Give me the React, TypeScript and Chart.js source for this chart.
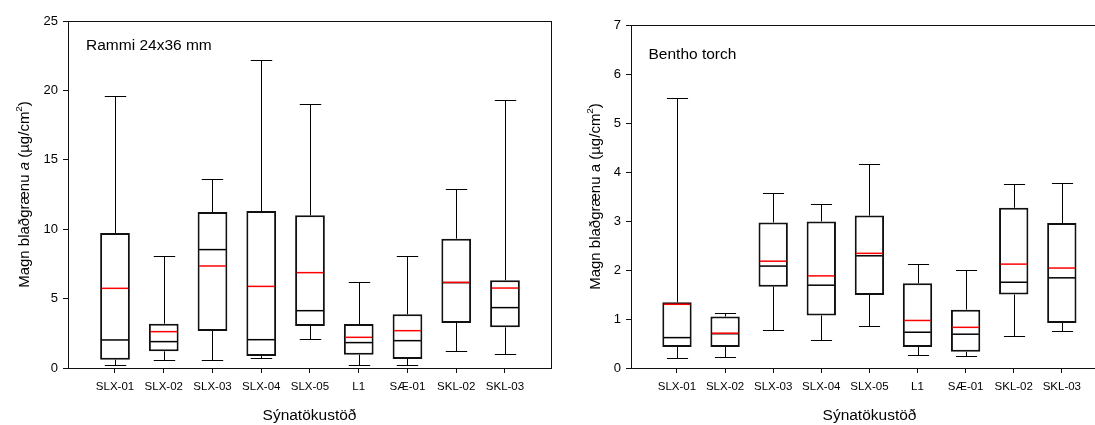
import React, { useEffect, useRef } from "react";
import { Chart, registerables } from "chart.js";

Chart.register(...registerables);

const FONT = '"Liberation Sans", Arial, Helvetica, sans-serif';
Chart.defaults.font.family = FONT;

// Sampling stations on the x axis
const stations = ["SLX-01", "SLX-02", "SLX-03", "SLX-04", "SLX-05", "L1", "SÆ-01", "SKL-02", "SKL-03"];

// Chlorophyll a, frame 24x36 mm (µg/cm²)
const rammiMin = [0.22, 0.58, 0.55, 0.72, 2.11, 0.24, 0.24, 1.2, 1.01];
const rammiQ1 = [0.6, 1.2, 2.67, 0.86, 3.03, 0.96, 0.65, 3.24, 2.93];
const rammiMedian = [2.02, 1.9, 8.53, 2.04, 4.13, 1.83, 1.97, 6.15, 4.35];
const rammiMean = [5.74, 2.62, 7.35, 5.88, 6.87, 2.21, 2.69, 6.17, 5.76];
const rammiQ3 = [9.73, 3.19, 11.24, 11.31, 11.0, 3.17, 3.87, 9.32, 6.32];
const rammiMax = [19.6, 8.05, 13.62, 22.19, 19.02, 6.2, 8.07, 12.92, 19.28];

// Chlorophyll a, BenthoTorch (µg/cm²)
const benthoMin = [0.2, 0.22, 0.77, 0.58, 0.86, 0.27, 0.25, 0.65, 0.75];
const benthoQ1 = [0.43, 0.43, 1.66, 1.07, 1.49, 0.43, 0.33, 1.5, 0.92];
const benthoMedian = [0.62, 0.7, 2.08, 1.69, 2.29, 0.73, 0.69, 1.75, 1.84];
const benthoMean = [1.3, 0.71, 2.18, 1.88, 2.34, 0.97, 0.83, 2.12, 2.04];
const benthoQ3 = [1.34, 1.05, 2.97, 2.99, 3.11, 1.73, 1.19, 3.27, 2.96];
const benthoMax = [5.52, 1.13, 3.58, 3.34, 4.16, 2.13, 1.99, 3.76, 3.78];

type Stats = { min: number[]; q1: number[]; median: number[]; mean: number[]; q3: number[]; max: number[] };
type Seg = { text: string; italic?: boolean; sup?: boolean };

type PanelProps = {
  left: number;
  width: number;
  stats: Stats;
  yMax: number;
  yStep: number;
  xMin: number;
  xMax: number;
  yAxisWidth: number;
  padTop: number;
  padRight: number;
  note: string;
  noteX: number;
  noteY: number;
  yTitle: Seg[];
  yTitleX: number;
};

const xTitle = "Sýnatökustöð";

function drawRotated(ctx: CanvasRenderingContext2D, segs: Seg[], baseX: number, cy: number, size: number) {
  const fontFor = (s: Seg) => `${s.italic ? "italic " : ""}${s.sup ? size * 0.66 : size}px ${FONT}`;
  ctx.save();
  ctx.translate(baseX, cy);
  ctx.rotate(-Math.PI / 2);
  ctx.fillStyle = "#000";
  ctx.textBaseline = "alphabetic";
  ctx.textAlign = "left";
  const widths = segs.map((s) => {
    ctx.font = fontFor(s);
    return ctx.measureText(s.text).width;
  });
  const total = widths.reduce((a, b) => a + b, 0);
  let x = -total / 2;
  segs.forEach((s, i) => {
    ctx.font = fontFor(s);
    ctx.fillText(s.text, x, s.sup ? -size * 0.45 : 0);
    x += widths[i];
  });
  ctx.restore();
}

function makeBoxPlugin(p: PanelProps) {
  return {
    id: "boxDetails",
    beforeDatasetsDraw(chart: any) {
      const { ctx, chartArea } = chart;
      ctx.save();
      ctx.strokeStyle = "#111";
      ctx.lineWidth = 1;
      ctx.strokeRect(
        Math.round(chartArea.left) + 0.5,
        Math.round(chartArea.top) + 0.5,
        Math.round(chartArea.right - chartArea.left),
        Math.round(chartArea.bottom - chartArea.top)
      );
      ctx.restore();
    },
    afterDatasetsDraw(chart: any) {
      const { ctx } = chart;
      const yScale = chart.scales.y;
      const meta = chart.getDatasetMeta(0);
      const s = p.stats;
      const py = (v: number) => yScale.getPixelForValue(v);
      meta.data.forEach((bar: any, i: number) => {
        const cx = Math.round(bar.x) + 0.5;
        const w = bar.width;
        const cap = w * 0.36;
        ctx.save();
        ctx.strokeStyle = "#000";
        ctx.lineWidth = 1;
        ctx.beginPath();
        // whiskers
        ctx.moveTo(cx, py(s.q3[i]));
        ctx.lineTo(cx, Math.round(py(s.max[i])) + 0.5);
        ctx.moveTo(cx, py(s.q1[i]));
        ctx.lineTo(cx, Math.round(py(s.min[i])) + 0.5);
        // caps
        ctx.moveTo(cx - cap, Math.round(py(s.max[i])) + 0.5);
        ctx.lineTo(cx + cap, Math.round(py(s.max[i])) + 0.5);
        ctx.moveTo(cx - cap, Math.round(py(s.min[i])) + 0.5);
        ctx.lineTo(cx + cap, Math.round(py(s.min[i])) + 0.5);
        ctx.stroke();
        // median
        ctx.lineWidth = 1.5;
        ctx.beginPath();
        ctx.moveTo(bar.x - w / 2 + 1.5, py(s.median[i]));
        ctx.lineTo(bar.x + w / 2 - 1.5, py(s.median[i]));
        ctx.stroke();
        // mean
        ctx.strokeStyle = "#ff0000";
        ctx.beginPath();
        ctx.moveTo(bar.x - w / 2 + 1.5, py(s.mean[i]));
        ctx.lineTo(bar.x + w / 2 - 1.5, py(s.mean[i]));
        ctx.stroke();
        ctx.restore();
      });
    },
    afterDraw(chart: any) {
      const { ctx, chartArea } = chart;
      ctx.save();
      ctx.fillStyle = "#000";
      ctx.font = `15.5px ${FONT}`;
      ctx.textAlign = "left";
      ctx.textBaseline = "alphabetic";
      ctx.fillText(p.note, p.noteX, p.noteY);
      ctx.textAlign = "center";
      ctx.fillText(xTitle, (chartArea.left + chartArea.right) / 2, 420);
      ctx.restore();
      drawRotated(ctx, p.yTitle, p.yTitleX, (chartArea.top + chartArea.bottom) / 2, 15);
    },
  };
}

function BoxPanel(p: PanelProps) {
  const ref = useRef<HTMLCanvasElement>(null);
  useEffect(() => {
    if (!ref.current) return;
    const s = p.stats;
    const chart = new Chart(ref.current, {
      type: "bar",
      data: {
        datasets: [
          {
            data: stations.map((_, i) => ({ x: i + 1, y: [s.q1[i], s.q3[i]] })) as any,
            backgroundColor: "#ffffff",
            borderColor: "#111",
            borderWidth: 2,
            borderSkipped: false,
            barPercentage: 0.61,
            categoryPercentage: 1,
          },
        ],
      },
      options: {
        responsive: false,
        devicePixelRatio: 1,
        animation: false,
        events: [],
        layout: { padding: { top: p.padTop, right: p.padRight, left: 0, bottom: 0 } },
        plugins: { legend: { display: false }, tooltip: { enabled: false } },
        scales: {
          x: {
            type: "linear",
            min: p.xMin,
            max: p.xMax,
            bounds: "data",
            offset: false,
            afterBuildTicks: (scale: any) => {
              scale.ticks = stations.map((_, i) => ({ value: i + 1 }));
            },
            afterFit: (scale: any) => {
              scale.height = 57;
              scale.paddingLeft = 0;
              scale.paddingRight = 0;
            },
            ticks: {
              callback: (v: any) => stations[Number(v) - 1] ?? "",
              autoSkip: false,
              maxRotation: 0,
              minRotation: 0,
              padding: 7,
              color: "#000",
              font: { size: 11.5 },
            },
            grid: { offset: false, drawOnChartArea: false, drawTicks: true, tickLength: 5, color: "#111" },
            border: { display: false },
          },
          y: {
            min: 0,
            max: p.yMax,
            afterFit: (scale: any) => {
              scale.width = p.yAxisWidth;
            },
            ticks: { stepSize: p.yStep, padding: 5, color: "#000", font: { size: 13 } },
            grid: { drawOnChartArea: false, drawTicks: true, tickLength: 5, color: "#111" },
            border: { display: false },
          },
        },
      },
      plugins: [makeBoxPlugin(p)],
    } as any);
    return () => chart.destroy();
  }, []);
  return (
    <canvas
      ref={ref}
      width={p.width}
      height={425}
      style={{ position: "absolute", left: p.left, top: 0, width: p.width, height: 425 }}
    />
  );
}

export default function App() {
  return (
    <div
      style={{
        position: "fixed",
        left: 0,
        top: 0,
        width: 1095,
        height: 425,
        overflow: "hidden",
        background: "#fff",
      }}
    >
      <BoxPanel
        left={0}
        width={560}
        stats={{ min: rammiMin, q1: rammiQ1, median: rammiMedian, mean: rammiMean, q3: rammiQ3, max: rammiMax }}
        yMax={25}
        yStep={5}
        xMin={0.036}
        xMax={9.944}
        yAxisWidth={68}
        padTop={21}
        padRight={9}
        note="Rammi 24x36 mm"
        noteX={86}
        noteY={50}
        yTitle={[
          { text: "Magn blaðgrænu " },
          { text: "a", italic: true },
          { text: " (µg/cm" },
          { text: "2", sup: true },
          { text: ")" },
        ]}
        yTitleX={28.5}
      />
      <BoxPanel
        left={560}
        width={560}
        stats={{ min: benthoMin, q1: benthoQ1, median: benthoMedian, mean: benthoMean, q3: benthoQ3, max: benthoMax }}
        yMax={7}
        yStep={1}
        xMin={0.044}
        xMax={9.96}
        yAxisWidth={71}
        padTop={25}
        padRight={12}
        note="Bentho torch"
        noteX={88.5}
        noteY={58.5}
        yTitle={[{ text: "Magn blaðgrænu a (µg/cm" }, { text: "2", sup: true }, { text: ")" }]}
        yTitleX={40}
      />
    </div>
  );
}
